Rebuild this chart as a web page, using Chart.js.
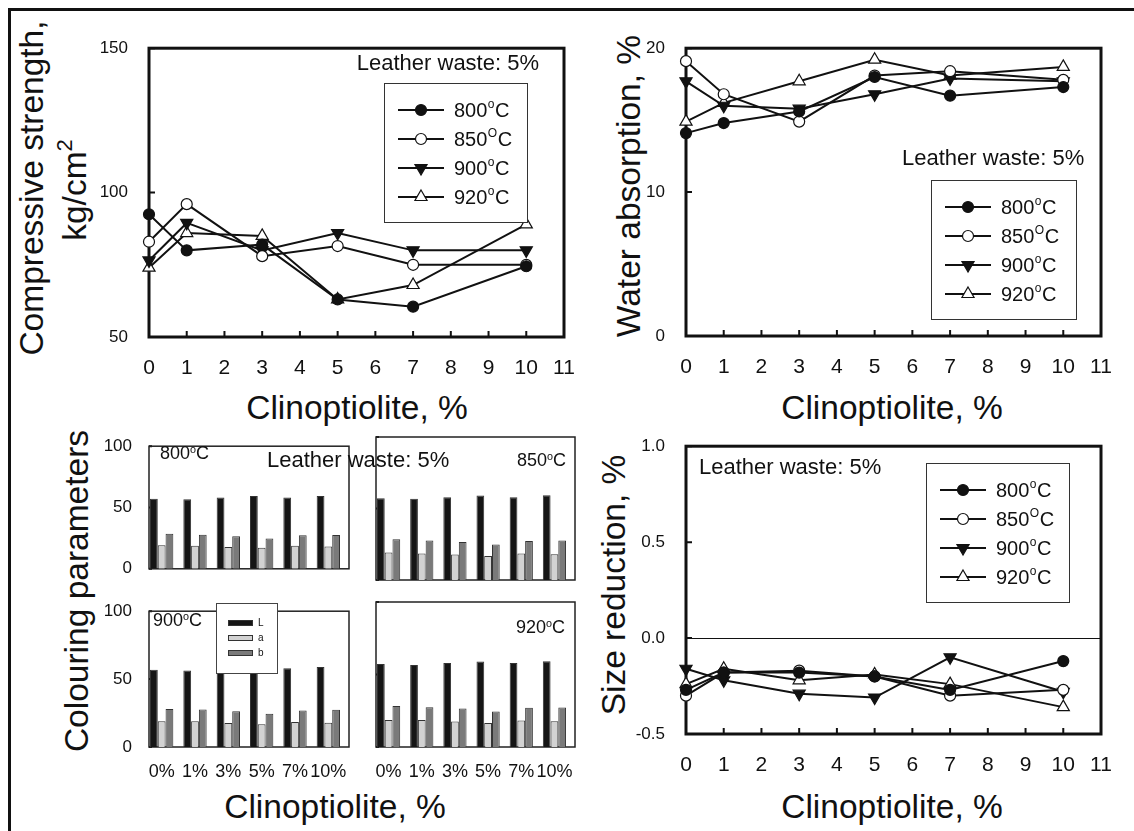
<!DOCTYPE html>
<html>
<head>
<meta charset="utf-8">
<script src="https://cdn.jsdelivr.net/npm/chart.js@4.4.0/dist/chart.umd.min.js"></script>
<style>
    html, body { margin: 0; padding: 0; background: #fff; }
    #fig { position: relative; width: 1134px; height: 831px; overflow: hidden; background: #fff;
           font-family: "Liberation Sans", Arial, sans-serif; color: #111; }
    #frame { position: absolute; left: 8px; top: 8px; right: -10px; bottom: -10px;
             border-left: 3px solid #111; border-top: 3px solid #111; }
    canvas { position: absolute; }
    .t { position: absolute; white-space: nowrap; line-height: 1; }
    .title { font-size: 33.5px; transform: translate(-50%, -50%); }
    .vert { transform: translate(-50%, -50%) rotate(-90deg); }
    .note { font-size: 22px; }
    .temp { font-size: 18px; }
    .sup { font-size: 0.6em; position: relative; top: -0.6em; }
</style>
</head>
<body>
<div id="fig">
    <div id="frame"></div>

    <!-- axis titles -->
    <div class="t title vert" style="left:31.5px;top:188px">Compressive strength,</div>
    <div class="t title vert" style="left:75px;top:190px">kg/cm<span style="font-size:22px;position:relative;top:-14px">2</span></div>
    <div class="t title vert" style="left:628.5px;top:186px">Water absorption, %</div>
    <div class="t title vert" style="left:76.5px;top:591px">Colouring parameters</div>
    <div class="t title vert" style="left:613.5px;top:585px">Size reduction, %</div>
    <div class="t title" style="left:357px;top:408px">Clinoptiolite, %</div>
    <div class="t title" style="left:892px;top:408px">Clinoptiolite, %</div>
    <div class="t title" style="left:335px;top:806.5px">Clinoptiolite, %</div>
    <div class="t title" style="left:892px;top:806.5px">Clinoptiolite, %</div>
</div>

<script>
// --- Data ---
const clinoX = [0, 1, 3, 5, 7, 10];
const clinoPct = ['0%', '1%', '3%', '5%', '7%', '10%'];
const tempNames = ['800', '850', '900', '920'];
const tempSup = ['o', 'O', 'o', 'o'];

// compressive strength, kg/cm2
const strength800 = [92.5, 80, 82, 63, 60.5, 74.5];
const strength850 = [83, 96, 78, 81.5, 75, 75];
const strength900 = [76.5, 89.5, 80, 86, 80, 80];
const strength920 = [74, 86, 85, 63, 68, 89];

// water absorption, %
const water800 = [14.1, 14.8, 15.6, 18.0, 16.7, 17.3];
const water850 = [19.1, 16.8, 14.9, 18.1, 18.4, 17.8];
const water900 = [17.7, 16.0, 15.8, 16.8, 17.9, 17.7];
const water920 = [14.9, 16.2, 17.7, 19.2, 18.1, 18.7];

// size reduction, %
const size800 = [-0.27, -0.18, -0.18, -0.20, -0.27, -0.12];
const size850 = [-0.30, -0.18, -0.17, -0.20, -0.30, -0.27];
const size900 = [-0.16, -0.22, -0.29, -0.31, -0.10, -0.28];
const size920 = [-0.24, -0.16, -0.22, -0.19, -0.24, -0.36];

// colouring parameters L, a, b
const colL800 = [57.2, 56.8, 58.2, 59.3, 58.2, 59.3];
const colA800 = [19.2, 18.9, 17.8, 17.1, 18.7, 18.2];
const colB800 = [28.5, 27.8, 26.6, 24.8, 27.3, 27.6];
const colL850 = [57.2, 56.8, 57.9, 59.1, 57.9, 59.3];
const colA850 = [19.2, 18.5, 17.8, 16.8, 18.5, 18.0];
const colB850 = [28.5, 27.6, 26.6, 24.8, 27.3, 27.6];
const colL900 = [56.8, 56.3, 57.5, 58.5, 57.9, 58.9];
const colA900 = [18.9, 18.9, 17.7, 16.8, 18.4, 17.9];
const colB900 = [28.0, 27.6, 26.4, 24.4, 26.9, 27.4];
const colL920 = [57.3, 56.6, 58.0, 58.9, 58.0, 59.1];
const colA920 = [18.7, 18.7, 17.6, 16.6, 18.2, 17.8];
const colB920 = [28.2, 27.5, 26.6, 24.5, 27.0, 27.3];
const colourKeys = ['L', 'a', 'b'];

// --- Styles ---
const FONT = '"Liberation Sans", Arial, sans-serif';
const INK = '#111';
const markerStyles = [
    { pointStyle: 'circle', rotation: 0, radius: 5.5, fill: '#111' },
    { pointStyle: 'circle', rotation: 0, radius: 5.5, fill: '#fff' },
    { pointStyle: 'triangle', rotation: 180, radius: 7, fill: '#111' },
    { pointStyle: 'triangle', rotation: 0, radius: 7, fill: '#fff' }
];
const barColors = ['#151515', '#d2d2d2', '#7a7a7a'];

const fig = document.getElementById('fig');

function placeCanvas(box, m) {
    const c = document.createElement('canvas');
    const w = box.w + m.l + m.r, h = box.h + m.t + m.b;
    c.width = w; c.height = h;
    c.style.left = (box.x - m.l) + 'px';
    c.style.top = (box.y - m.t) + 'px';
    c.style.width = w + 'px';
    c.style.height = h + 'px';
    fig.appendChild(c);
    return c;
}

function addText(html, cls, style) {
    const d = document.createElement('div');
    d.className = 't ' + cls;
    d.innerHTML = html;
    d.style.cssText = style;
    fig.appendChild(d);
}

// box around the plot area, inward ticks, optional zero line
const boxFrame = {
    id: 'boxFrame',
    beforeDatasetsDraw(chart, args, o) {
        const { ctx, chartArea: a } = chart;
        const xs = chart.scales.x, ys = chart.scales.y;
        ctx.save();
        ctx.strokeStyle = INK;
        if (o.zeroLine) {
            const y0 = Math.round(ys.getPixelForValue(0)) + 0.5;
            ctx.lineWidth = 1;
            ctx.beginPath(); ctx.moveTo(a.left, y0); ctx.lineTo(a.right, y0); ctx.stroke();
        }
        ctx.lineWidth = 2;
        ctx.beginPath();
        if (o.xTick) xs.ticks.forEach(t => {
            const x = xs.getPixelForValue(t.value);
            ctx.moveTo(x, a.bottom); ctx.lineTo(x, a.bottom - o.xTick);
        });
        if (o.yTick) ys.ticks.forEach(t => {
            const y = ys.getPixelForValue(t.value);
            ctx.moveTo(a.left, y); ctx.lineTo(a.left + o.yTick, y);
        });
        ctx.stroke();
        ctx.lineWidth = o.lineWidth;
        ctx.strokeStyle = o.color || INK;
        ctx.strokeRect(a.left, a.top, a.right - a.left, a.bottom - a.top);
        ctx.restore();
    }
};

// legend with line + marker samples
const markerLegend = {
    id: 'markerLegend',
    afterDatasetsDraw(chart, args, o) {
        if (!o.box) return;
        const ctx = chart.ctx;
        const x0 = o.box.x - o.origin.x, y0 = o.box.y - o.origin.y;
        ctx.save();
        ctx.fillStyle = '#fff';
        ctx.fillRect(x0, y0, o.box.w, o.box.h);
        ctx.strokeStyle = '#333';
        ctx.lineWidth = 1;
        ctx.strokeRect(x0 + 0.5, y0 + 0.5, o.box.w, o.box.h);
        chart.data.datasets.forEach((ds, i) => {
            const y = y0 + 27 + i * 29;
            ctx.strokeStyle = INK;
            ctx.lineWidth = 2;
            ctx.beginPath(); ctx.moveTo(x0 + 14, y); ctx.lineTo(x0 + 60, y); ctx.stroke();
            ctx.fillStyle = ds.pointBackgroundColor;
            ctx.lineWidth = ds.pointBorderWidth;
            Chart.helpers.drawPoint(ctx, {
                pointStyle: ds.pointStyle, rotation: ds.pointRotation,
                radius: ds.pointRadius, borderWidth: ds.pointBorderWidth
            }, x0 + 37, y);
            ctx.fillStyle = INK;
            ctx.textBaseline = 'alphabetic';
            let tx = x0 + 70;
            const by = y + 7;
            ctx.font = '20px ' + FONT;
            ctx.fillText(tempNames[i], tx, by);
            tx += ctx.measureText(tempNames[i]).width;
            ctx.font = '12px ' + FONT;
            ctx.fillText(tempSup[i], tx + 0.5, by - 9);
            tx += ctx.measureText(tempSup[i]).width + 1;
            ctx.font = '20px ' + FONT;
            ctx.fillText('C', tx, by);
        });
        ctx.restore();
    }
};

// L / a / b key inside the 900 subplot
const barLegend = {
    id: 'barLegend',
    afterDatasetsDraw(chart, args, o) {
        if (!o.box) return;
        const ctx = chart.ctx;
        const x0 = o.box.x - o.origin.x, y0 = o.box.y - o.origin.y;
        ctx.save();
        ctx.fillStyle = '#fff';
        ctx.fillRect(x0, y0, o.box.w, o.box.h);
        ctx.strokeStyle = '#444';
        ctx.lineWidth = 1;
        ctx.strokeRect(x0 + 0.5, y0 + 0.5, o.box.w, o.box.h);
        chart.data.datasets.forEach((ds, i) => {
            const y = y0 + 17 + i * 15;
            ctx.fillStyle = ds.backgroundColor;
            ctx.fillRect(x0 + 12, y, 25, 6);
            ctx.strokeStyle = '#333';
            ctx.strokeRect(x0 + 12.5, y + 0.5, 24, 5);
            ctx.fillStyle = INK;
            ctx.font = '10px ' + FONT;
            ctx.textBaseline = 'middle';
            ctx.fillText(ds.label, x0 + 42, y + 3);
        });
        ctx.restore();
    }
};

function lineChart(box, series, y, legendBox, zeroLine) {
    const m = { l: 60, r: 30, t: 14, b: 40 };
    const canvas = placeCanvas(box, m);
    new Chart(canvas, {
        type: 'scatter',
        data: {
            datasets: series.map((vals, i) => ({
                label: tempNames[i],
                data: clinoX.map((x, j) => ({ x: x, y: vals[j] })),
                showLine: true,
                borderColor: INK,
                borderWidth: 2,
                pointStyle: markerStyles[i].pointStyle,
                pointRotation: markerStyles[i].rotation,
                pointRadius: markerStyles[i].radius,
                pointBackgroundColor: markerStyles[i].fill,
                pointBorderColor: INK,
                pointBorderWidth: 1.2,
                clip: false
            }))
        },
        options: {
            responsive: false,
            animation: false,
            events: [],
            layout: { padding: { left: 0, top: m.t, right: m.r, bottom: 0 } },
            plugins: {
                legend: { display: false },
                tooltip: { enabled: false },
                boxFrame: { lineWidth: 3, xTick: 6, yTick: 6, zeroLine: zeroLine },
                markerLegend: { box: legendBox, origin: { x: box.x - m.l, y: box.y - m.t } }
            },
            scales: {
                x: {
                    type: 'linear', min: 0, max: 11,
                    afterFit: s => { s.height = m.b; },
                    grid: { display: false }, border: { display: false },
                    ticks: { stepSize: 1, padding: 11, color: INK, font: { family: FONT, size: 21 } }
                },
                y: {
                    min: y.min, max: y.max,
                    afterFit: s => { s.width = m.l; },
                    grid: { display: false }, border: { display: false },
                    ticks: {
                        stepSize: y.step, padding: 13, color: INK,
                        font: { family: FONT, size: 17 },
                        callback: v => v.toFixed(y.dec)
                    }
                }
            }
        },
        plugins: [boxFrame, markerLegend]
    });
}

function barChart(box, L, a, b, showX, showY, legendBox) {
    const m = { l: 45, r: 8, t: 10, b: showX ? 32 : 8 };
    const canvas = placeCanvas(box, m);
    const cols = [L, a, b];
    new Chart(canvas, {
        type: 'bar',
        data: {
            datasets: cols.map((vals, i) => ({
                label: colourKeys[i],
                data: clinoPct.map((p, j) => ({ x: j, y: vals[j] })),
                backgroundColor: barColors[i],
                borderColor: '#333',
                borderWidth: 1,
                categoryPercentage: 0.7,
                barPercentage: 1
            }))
        },
        options: {
            responsive: false,
            animation: false,
            events: [],
            layout: { padding: { left: 0, top: m.t, right: m.r, bottom: 0 } },
            plugins: {
                legend: { display: false },
                tooltip: { enabled: false },
                boxFrame: { lineWidth: 1.5, color: '#222', xTick: 0, yTick: 3 },
                barLegend: { box: legendBox, origin: { x: box.x - m.l, y: box.y - m.t } }
            },
            scales: {
                x: {
                    type: 'linear', min: -0.38, max: 5.62, offset: false,
                    afterFit: s => { s.height = m.b; },
                    afterBuildTicks: s => { s.ticks = clinoPct.map((p, j) => ({ value: j })); },
                    grid: { display: false }, border: { display: false },
                    ticks: {
                        display: showX, padding: 6, color: INK, autoSkip: false, maxRotation: 0,
                        font: { family: FONT, size: 18 },
                        callback: v => clinoPct[v]
                    }
                },
                y: {
                    min: 0, max: 100,
                    afterFit: s => { s.width = m.l; },
                    grid: { display: false }, border: { display: false },
                    ticks: { display: showY, stepSize: 50, padding: 9, color: INK, font: { family: FONT, size: 17 } }
                }
            }
        },
        plugins: [boxFrame, barLegend]
    });
}

// --- Panels ---
lineChart({ x: 149, y: 39, w: 415, h: 298 },
    [strength800, strength850, strength900, strength920],
    { min: 50, max: 150, step: 50, dec: 0 },
    { x: 384, y: 83, w: 143, h: 139 }, false);

lineChart({ x: 686, y: 39, w: 415, h: 297 },
    [water800, water850, water900, water920],
    { min: 0, max: 20, step: 10, dec: 0 },
    { x: 931, y: 180, w: 145, h: 139 }, false);

lineChart({ x: 686, y: 437, w: 415, h: 297 },
    [size800, size850, size900, size920],
    { min: -0.5, max: 1.0, step: 0.5, dec: 1 },
    { x: 926, y: 463, w: 143, h: 139 }, true);

barChart({ x: 149, y: 437, w: 200, h: 143 }, colL800, colA800, colB800, false, true, null);
barChart({ x: 376, y: 437, w: 199, h: 143 }, colL850, colA850, colB850, false, false, null);
barChart({ x: 149, y: 602, w: 200, h: 145 }, colL900, colA900, colB900, true, true,
    { x: 216, y: 603, w: 61, h: 70 });
barChart({ x: 376, y: 602, w: 199, h: 145 }, colL920, colA920, colB920, true, false, null);

// --- Annotations ---
const leather = 'Leather waste: 5%';
addText(leather, 'note', 'left:539px;top:52px;transform:translateX(-100%)');
addText(leather, 'note', 'left:902px;top:147px');
addText(leather, 'note', 'left:699px;top:456px');
addText(leather, 'note', 'left:267px;top:449px');

const tempHtml = i => tempNames[i] + '<span class="sup">o</span>C';
addText(tempHtml(0), 'temp', 'left:160px;top:444px');
addText(tempHtml(1), 'temp', 'left:566px;top:451px;transform:translateX(-100%)');
addText(tempHtml(2), 'temp', 'left:153px;top:611px');
addText(tempHtml(3), 'temp', 'left:565px;top:618px;transform:translateX(-100%)');
</script>
</body>
</html>
